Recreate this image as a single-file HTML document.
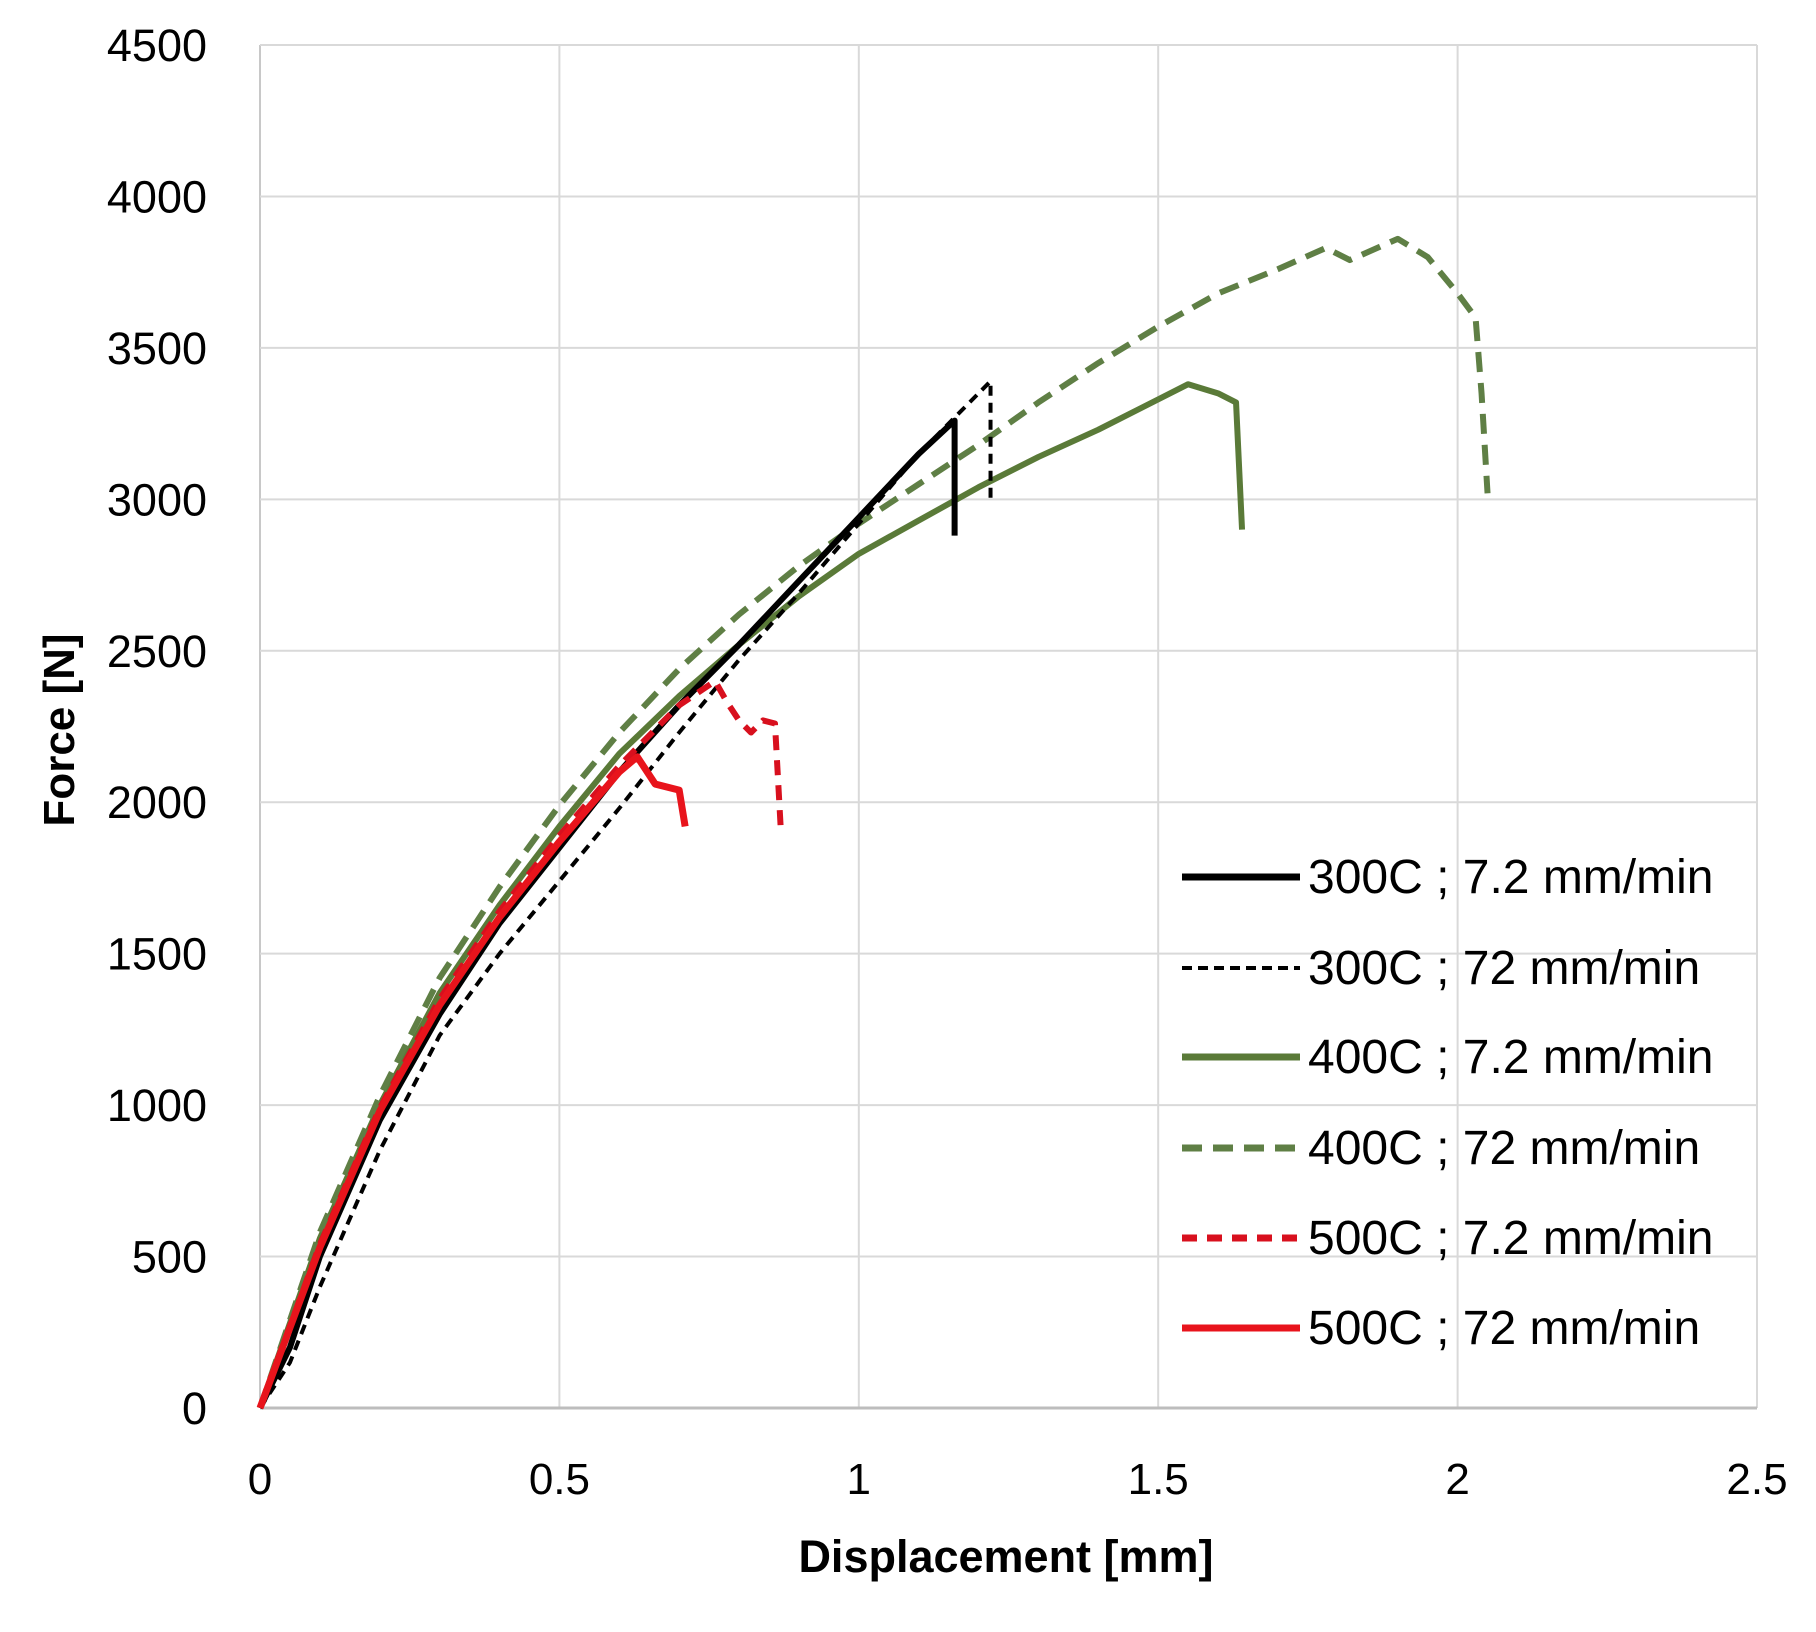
<!DOCTYPE html>
<html><head><meta charset="utf-8"><style>
html,body{margin:0;padding:0;background:#fff;}
svg{display:block;}
text{font-family:"Liberation Sans",sans-serif;fill:#000;}
</style></head><body>
<svg id="chart" width="1816" height="1632" viewBox="0 0 1816 1632">
<g id="grid"></g>
<g id="axes"></g>
<g id="series"></g>
<text x="1006" y="1572" text-anchor="middle" font-size="45" font-weight="bold">Displacement [mm]</text>
<text transform="translate(74,730) rotate(-90)" text-anchor="middle" font-size="44" font-weight="bold">Force [N]</text>
<g id="legend"></g>
</svg>
<script>
const xTicks=[0,0.5,1,1.5,2,2.5];
const yTicks=[0,500,1000,1500,2000,2500,3000,3500,4000,4500];
const xTickLabels=["0","0.5","1","1.5","2","2.5"];
const yTickLabels=["0","500","1000","1500","2000","2500","3000","3500","4000","4500"];
const seriesNames=["300C ; 7.2 mm/min","300C ; 72 mm/min","400C ; 7.2 mm/min","400C ; 72 mm/min","500C ; 7.2 mm/min","500C ; 72 mm/min"];
const s300slowX=[0,0.05,0.1,0.2,0.3,0.4,0.5,0.6,0.7,0.8,0.9,1.0,1.1,1.16,1.16];
const s300slowY=[0,200,500,950,1300,1600,1850,2100,2320,2520,2730,2940,3150,3260,2880];
const s300fastX=[0,0.05,0.1,0.2,0.3,0.4,0.5,0.6,0.7,0.8,0.9,1.0,1.1,1.2,1.22,1.22];
const s300fastY=[0,150,400,850,1230,1500,1740,1980,2230,2470,2690,2920,3150,3350,3390,2990];
const s400slowX=[0,0.1,0.2,0.3,0.4,0.5,0.6,0.7,0.8,0.9,1.0,1.1,1.2,1.3,1.4,1.5,1.55,1.6,1.63,1.64];
const s400slowY=[0,560,1000,1370,1660,1920,2160,2350,2520,2680,2820,2930,3040,3140,3230,3330,3380,3350,3320,2900];
const s400fastX=[0,0.1,0.2,0.3,0.4,0.5,0.6,0.7,0.8,0.9,1.0,1.1,1.2,1.3,1.4,1.5,1.6,1.7,1.78,1.82,1.9,1.95,2.0,2.03,2.04,2.05];
const s400fastY=[0,580,1030,1420,1720,1990,2230,2440,2620,2780,2920,3050,3180,3320,3450,3570,3680,3760,3830,3790,3860,3800,3680,3600,3350,3020];
const s500slowX=[0,0.1,0.2,0.3,0.4,0.5,0.6,0.7,0.76,0.78,0.8,0.82,0.84,0.86,0.87];
const s500slowY=[0,540,990,1350,1640,1890,2120,2320,2400,2330,2270,2230,2270,2260,1900];
const s500fastX=[0,0.1,0.2,0.3,0.4,0.5,0.6,0.63,0.66,0.7,0.71];
const s500fastY=[0,530,980,1330,1620,1870,2100,2150,2060,2040,1920];

const X0=260,X1=1757,Y0=1408,Y1=45;
function sx(v){return X0+(v-0)/(2.5-0)*(X1-X0);}
function sy(v){return Y0-(v-0)/(4500-0)*(Y0-Y1);}
const NS="http://www.w3.org/2000/svg";
function mk(tag,parent){const e=document.createElementNS(NS,tag);parent.appendChild(e);return e;}
const grid=document.getElementById('grid'),axes=document.getElementById('axes'),ser=document.getElementById('series'),leg=document.getElementById('legend');
xTicks.forEach((t,i)=>{
  const l=mk('line',grid);
  
  
  l.setAttribute('x1',sx(t));l.setAttribute('x2',sx(t));l.setAttribute('y1',Y1);l.setAttribute('y2',Y0);
  l.setAttribute('stroke',i===0?'#c8c8c8':'#d9d9d9');l.setAttribute('stroke-width',2);
  const tx=mk('text',axes);
  
  
  tx.setAttribute('x',sx(t));tx.setAttribute('y',1494);tx.setAttribute('text-anchor','middle');tx.setAttribute('font-size','44');
  tx.textContent=xTickLabels[i];
});
yTicks.forEach((t,i)=>{
  const l=mk('line',grid);
  
  
  l.setAttribute('x1',X0);l.setAttribute('x2',X1);l.setAttribute('y1',sy(t));l.setAttribute('y2',sy(t));
  l.setAttribute('stroke',i===0?'#bdbdbd':'#d9d9d9');l.setAttribute('stroke-width',i===0?3:2);
  const tx=mk('text',axes);
  
  
  tx.setAttribute('x',207);tx.setAttribute('y',sy(t)+16);tx.setAttribute('text-anchor','end');tx.setAttribute('font-size','45');
  tx.textContent=yTickLabels[i];
});
const styles=[
 {c:'#000000',w:6,d:'',xs:s300slowX,ys:s300slowY},
 {c:'#000000',w:4,d:'10 7',xs:s300fastX,ys:s300fastY},
 {c:'#5a7a38',w:6,d:'',xs:s400slowX,ys:s400slowY},
 {c:'#5f7f45',w:6,d:'20 11',xs:s400fastX,ys:s400fastY},
 {c:'#d8101e',w:6,d:'15 10',xs:s500slowX,ys:s500slowY},
 {c:'#e8141c',w:7,d:'',xs:s500fastX,ys:s500fastY}
];
const drawOrder=[2,3,0,1,4,5];
drawOrder.forEach(k=>{
  const s=styles[k];
  const p=mk('polyline',ser);
  
  
  p.setAttribute('points',s.xs.map((x,i)=>sx(x)+','+sy(s.ys[i])).join(' '));
  p.setAttribute('fill','none');p.setAttribute('stroke',s.c);p.setAttribute('stroke-width',s.w);
  p.setAttribute('stroke-linejoin','round');
  if(s.d)p.setAttribute('stroke-dasharray',s.d);
});
const legY=[877,968,1057,1148,1238,1328];
seriesNames.forEach((n,i)=>{
  const s=styles[i];
  const l=mk('line',leg);
  
  
  l.setAttribute('x1',1182);l.setAttribute('x2',1300);l.setAttribute('y1',legY[i]);l.setAttribute('y2',legY[i]);
  l.setAttribute('stroke',s.c);l.setAttribute('stroke-width',i===1?4:7);
  if(s.d)l.setAttribute('stroke-dasharray',i===1?'10 6':s.d);
  const t=mk('text',leg);
  
  
  t.setAttribute('x',1308);t.setAttribute('y',legY[i]+16);t.setAttribute('font-size','48');
  t.setAttribute('fill','#222');
  t.textContent=n;
});
</script>
</body></html>
